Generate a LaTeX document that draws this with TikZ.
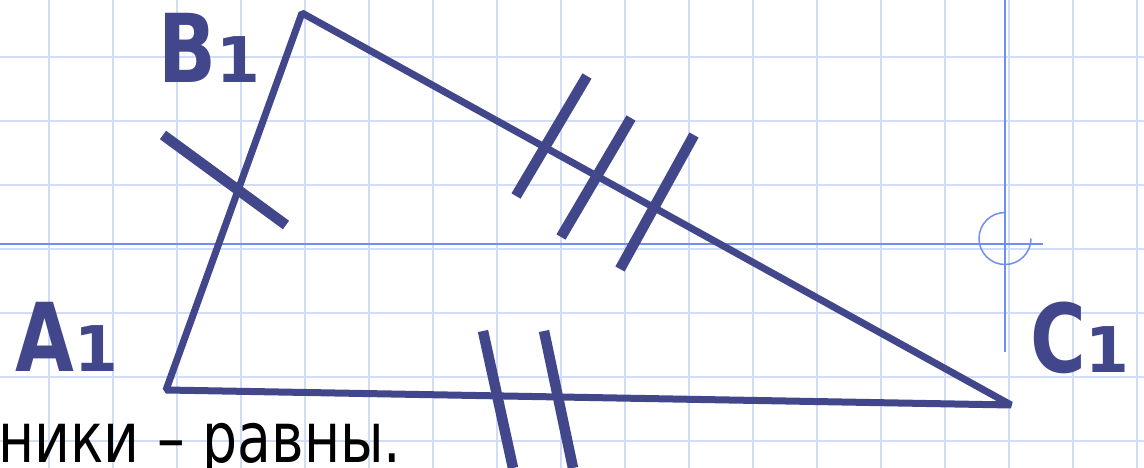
\documentclass[tikz,border=0pt]{standalone}
\usepackage{fontspec}
\setmainfont{DejaVu Sans}
\usepackage{xcolor}
\usepackage{tikz}
\usetikzlibrary{positioning, calc}
\definecolor{triblue}{RGB}{65,71,138}
\definecolor{gridblue}{RGB}{208,220,248}
\definecolor{markblue}{RGB}{112,142,238}
\newcommand{\vname}[1]{\scalebox{0.8}[1]{#1}{\fontsize{63}{63}\selectfont 1}}

\begin{document}
\begin{tikzpicture}[
    x=1pt, y=-1pt,
    gridline/.style={draw=gridblue, line width=1.6pt},
    side/.style={draw=triblue, line width=7pt, line join=bevel},
    tick/.style={draw=triblue, line width=10.5pt},
    crossline/.style={draw=markblue, line width=1.5pt},
    vlabel/.style={inner sep=0, anchor=base west, text=triblue, font=\bfseries\fontsize{95}{95}\selectfont}
]
    \useasboundingbox[fill=white] (0,0) rectangle (1144,468);
    \foreach \x in {49,113,...,1137}
        \draw[gridline] (\x,0) -- (\x,468);
    \foreach \y in {57,121,...,441}
        \draw[gridline] (0,\y) -- (1144,\y);

    \coordinate (mark) at (1005,238.5);
    \draw[crossline] (0,244) -- (1043,244);
    \draw[crossline] (1005,0) -- (1005,352);
    \draw[crossline] ($(mark)+(26,0)$) arc[start angle=0, end angle=270, radius=26];

    \coordinate (A1) at (166,390);
    \coordinate (B1) at (302,13);
    \coordinate (C1) at (1011,405);
    \draw[side] (A1) -- (B1) -- (C1) -- cycle;

    \draw[tick] (163,135) -- (286,225);
    \draw[tick] (587,76) -- (516,196);
    \draw[tick] (631,118) -- (561,237);
    \draw[tick] (694,135) -- (620,269);
    \draw[tick] (483,331) -- (513,468);
    \draw[tick] (544,331) -- (573,468);

    \node[vlabel] (labB) at (158,83) {\vname{B}};
    \node[vlabel] (labA) at (15,371) {\vname{A}};
    \node[vlabel] (labC) at (1030,372) {\vname{C}};

    \node[inner sep=0, anchor=base west, font=\fontsize{70}{70}\selectfont] (note) at (-2,462) {\scalebox{0.79}[1]{ники – равны.}};
\end{tikzpicture}
\end{document}
